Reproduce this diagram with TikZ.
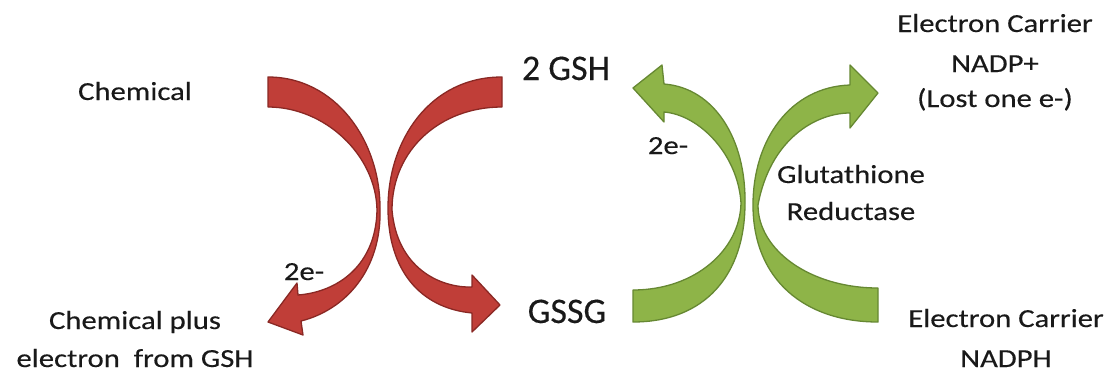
\documentclass[tikz,border=0pt]{standalone}
\usepackage{fontspec}
\setmainfont{Carlito}[FakeBold=0.3]
\newfontfamily\widefont[FakeStretch=1.18,FakeBold=0.3]{Carlito}
\newfontfamily\bigfont[FakeBold=0.3]{Carlito}

\definecolor{redfill}{RGB}{192,62,56}
\definecolor{redline}{RGB}{138,40,36}
\definecolor{greenfill}{RGB}{142,180,72}
\definecolor{greenline}{RGB}{102,136,50}
\definecolor{ink}{RGB}{25,25,25}

\tikzset{
  lab/.style={font={\widefont\fontsize{26}{30}\selectfont}, text=ink, inner sep=0pt, anchor=base},
  biglab/.style={font={\bigfont\fontsize{36}{40}\selectfont}, text=ink, inner sep=0pt, anchor=base},
  redarrow/.style={fill=redfill, draw=redline, line width=1.3pt, line join=round},
  greenarrow/.style={fill=greenfill, draw=greenline, line width=1.3pt, line join=round},
}

\begin{document}
\begin{tikzpicture}[x=1pt, y=-1pt]
\fill[white] (0,0) rectangle (1112,372);
\useasboundingbox (0,0) rectangle (1112,372);

% red pair: Chemical <-> GSH
\path[redarrow] (268,77) .. controls (335,77) and (380,140) .. (380,208)
  .. controls (382,270) and (345,310) .. (301,321)
  -- (303,335) -- (268,322) -- (297,283) -- (298,295)
  .. controls (338,292) and (376,265) .. (377,210)
  .. controls (376,155) and (325,107) .. (268,107) -- cycle;

\path[redarrow] (502,77) .. controls (430,77) and (388,140) .. (388,208)
  .. controls (388,270) and (420,308) .. (472,313)
  -- (472,332) -- (500,305) -- (472,275) -- (472,287)
  .. controls (440,288) and (397,268) .. (392,210)
  .. controls (392,150) and (440,107) .. (502,107) -- cycle;

% green pair: glutathione reductase
\path[greenarrow] (633,290) .. controls (695,290) and (740,250) .. (741,203)
  .. controls (738,155) and (700,115) .. (664,112)
  -- (664,122) -- (633,88) -- (662,65) -- (664,84)
  .. controls (715,88) and (746,140) .. (745,203)
  .. controls (745,275) and (705,322) .. (633,322) -- cycle;

\path[greenarrow] (878,288) .. controls (810,288) and (758,250) .. (758,205)
  .. controls (770,140) and (815,113) .. (850,113)
  -- (850,128) -- (878,93) -- (850,65) -- (850,85)
  .. controls (790,87) and (753,140) .. (753,205)
  .. controls (753,280) and (805,322) .. (878,322) -- cycle;

% labels
\node[lab] (chem) at (135,100) {Chemical};
\node[lab] (chemplusA) at (135,329) {Chemical plus};
\node[lab] (chemplusB) at (135,367) {electron~~from GSH};
\node[biglab] (gsh) at (566,80) {2 GSH};
\node[biglab] (gssg) at (567,323) {GSSG};
\node[lab] (eRed) at (304,280) {2e-};
\node[lab] (eGreen) at (668,154) {2e-};
\node[lab] (glutA) at (851,183) {Glutathione};
\node[lab] (glutB) at (851,220) {Reductase};
\node[lab] (nadpA) at (995,32) {Electron Carrier};
\node[lab] (nadpB) at (995,72) {NADP+};
\node[lab] (nadpC) at (995,107) {(Lost one e-)};
\node[lab] (nadphA) at (1006,327) {Electron Carrier};
\node[lab] (nadphB) at (1006,367) {NADPH};
\end{tikzpicture}
\end{document}
